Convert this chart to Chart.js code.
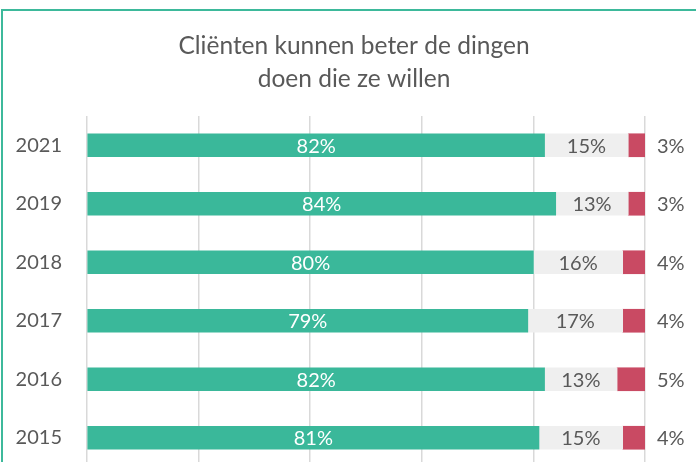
<!DOCTYPE html>
<html>
<head>
<meta charset="utf-8">
<script src="https://cdn.jsdelivr.net/npm/chart.js@4.4.1/dist/chart.umd.min.js"></script>
<style>
  html, body { margin: 0; padding: 0; background: #fff; overflow: hidden; }
  #frame {
    position: absolute; left: 1px; top: 9px; width: 760px; height: 560px;
    border-top: 2px solid #3DB99B; border-left: 2px solid #3DB99B;
  }
  #chart { position: absolute; left: 0; top: 0; }
</style>
</head>
<body>
<div id="frame"></div>
<canvas id="chart" width="696" height="504"></canvas>
<script>
const years = ['2021', '2019', '2018', '2017', '2016', '2015'];
const positive = [82, 84, 80, 79, 82, 81];
const neutral = [15, 13, 16, 17, 13, 15];
const negative = [3, 3, 4, 4, 5, 4];
const titleLines = ['Cliënten kunnen beter de dingen', 'doen die ze willen'];

const textColor = '#595959';
const fontFamily = 'Lato, "Open Sans", sans-serif';

// two-line title, centred where the original sits
const chartTitle = {
    id: 'chartTitle',
    afterDraw(chart) {
        const ctx = chart.ctx;
        ctx.save();
        ctx.font = '24.5px ' + fontFamily;
        ctx.fillStyle = textColor;
        ctx.textAlign = 'center';
        ctx.textBaseline = 'middle';
        titleLines.forEach((line, i) => ctx.fillText(line, 354, 46 + i * 33));
        ctx.restore();
    }
};

// draws the percentage labels on/next to each bar segment
const barLabels = {
    id: 'barLabels',
    afterDatasetsDraw(chart) {
        const ctx = chart.ctx;
        ctx.save();
        ctx.font = '20px ' + fontFamily;
        ctx.textBaseline = 'middle';
        chart.data.datasets.forEach((ds, i) => {
            const meta = chart.getDatasetMeta(i);
            meta.data.forEach((bar, j) => {
                const label = ds.data[j] + '%';
                if (i === 2) {
                    ctx.textAlign = 'left';
                    ctx.fillStyle = textColor;
                    ctx.fillText(label, bar.x + 12, bar.y + 1);
                } else {
                    ctx.textAlign = 'center';
                    ctx.fillStyle = i === 0 ? '#ffffff' : textColor;
                    ctx.fillText(label, (bar.x + bar.base) / 2, bar.y + 1);
                }
            });
        });
        ctx.restore();
    }
};

new Chart(document.getElementById('chart'), {
    type: 'bar',
    data: {
        labels: years,
        datasets: [
            { data: positive, backgroundColor: '#3AB89A' },
            { data: neutral, backgroundColor: '#EFEFEF' },
            { data: negative, backgroundColor: '#C94A63' }
        ]
    },
    options: {
        indexAxis: 'y',
        responsive: false,
        animation: false,
        devicePixelRatio: 1,
        datasets: { bar: { barThickness: 23, borderWidth: 0 } },
        layout: { padding: { left: 0, right: 51, top: 116, bottom: 0 } },
        plugins: {
            legend: { display: false },
            tooltip: { enabled: false },
            title: { display: false }
        },
        scales: {
            x: {
                stacked: true,
                min: 0,
                max: 100,
                ticks: { display: false, stepSize: 20 },
                grid: { color: '#D9D9D9', lineWidth: 1.5, drawTicks: false },
                border: { display: false }
            },
            y: {
                stacked: true,
                grid: { display: false, drawTicks: false },
                border: { display: false },
                ticks: {
                    color: textColor,
                    padding: 25,
                    font: { family: fontFamily, size: 20 }
                },
                afterFit(scale) { scale.width = 87; }
            }
        }
    },
    plugins: [barLabels, chartTitle]
});
</script>
</body>
</html>
